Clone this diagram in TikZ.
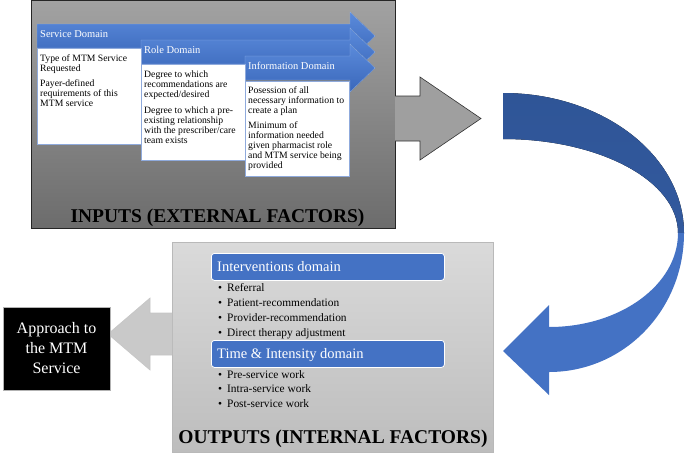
\documentclass[tikz,border=0pt]{standalone}
\usepackage{fontspec}
\setmainfont{Liberation Serif}
\usetikzlibrary{positioning}

\definecolor{mtmblue}{HTML}{4472C4}
\definecolor{mtmdark}{HTML}{2F5597}
\definecolor{bartop}{HTML}{5B8BDB}
\definecolor{barbot}{HTML}{3A67BA}
\definecolor{boxline}{HTML}{8FAADC}
\definecolor{ingreytop}{HTML}{A2A2A2}
\definecolor{ingreybot}{HTML}{6C6C6C}
\definecolor{outgreytop}{HTML}{DADADA}
\definecolor{outgreybot}{HTML}{BDBDBD}

\begin{document}
\begin{tikzpicture}[x=1pt,y=-1pt,inner sep=0pt,
		dombar/.style={draw=bartop!70!white,line width=0.4pt,top color=bartop,bottom color=barbot},
		txtbox/.style={draw=boxline,fill=white,line width=0.6pt,anchor=north west},
		txt/.style={anchor=north west,align=left,font={\fontsize{9.7}{10}\selectfont}},
		barlbl/.style={anchor=base west,text=white,font={\fontsize{10.5}{12}\selectfont}},
		outbar/.style={draw=white,line width=0.8pt,fill=mtmblue,rounded corners=3pt,anchor=north west,
			minimum width=233,minimum height=27},
		outlbl/.style={anchor=base west,text=white,font={\fontsize{14.5}{16}\selectfont}},
		bullets/.style={anchor=north west,align=left,font={\fontsize{11.4}{14.8}\selectfont}},
		title/.style={anchor=base,font={\bfseries\fontsize{19.5}{22}\selectfont}}]
	\useasboundingbox (0,0) rectangle (685,453);

	% inputs
	\node[draw=black!85,line width=0.8pt,top color=ingreytop,bottom color=ingreybot,anchor=north west,
		minimum width=364,minimum height=228] (inputs) at (31,0) {};
	\foreach \xs/\c/\nm/\lbl in {37/36/svc/Service Domain,141/52/role/Role Domain,245/68/info/Information Domain}{
		\filldraw[dombar] (\xs,\c-12) -- (350,\c-12) -- (350,\c-24) -- (375,\c) -- (350,\c+24)
			-- (350,\c+12) -- (\xs,\c+12) -- cycle;
		\node[barlbl] (\nm lbl) at (\xs+3,\c+1.5) {\lbl};
	}
	\node[txtbox,minimum width=104,minimum height=96] (svcbox) at (37,48) {};
	\node[txtbox,minimum width=104,minimum height=96] (rolebox) at (141,64) {};
	\node[txtbox,minimum width=104,minimum height=95] (infobox) at (245,81) {};
	\node[txt] (svctxt) at (40,54.5) {Type of MTM Service\\Requested\\[5pt]Payer-defined\\requirements of this\\MTM service};
	\node[txt] (roletxt) at (144,70.5) {Degree to which\\recommendations are\\expected/desired\\[6pt]Degree to which a pre-\\existing relationship\\with the prescriber/care\\team exists};
	\node[txt] (infotxt) at (248,86.5) {Posession of all\\necessary information to\\create a plan\\[5pt]Minimum of\\information needed\\given pharmacist role\\and MTM service being\\provided};
	\node[title] (intitle) at (217.5,222.5) {INPUTS (EXTERNAL FACTORS)};

	% grey arrow
	\filldraw[draw=black!80,fill=gray!75,line width=0.6pt] (395,96) -- (420,96) -- (420,77) -- (481,118.5)
		-- (420,160) -- (420,141) -- (395,141);

	% curved arrow
	\fill[top color=mtmdark,bottom color=mtmdark!85!mtmblue] (503,93) .. controls (603,93) and (684,156) .. (684,233)
		-- (678,233) .. controls (678,181) and (600,139) .. (503,139) -- cycle;
	\fill[mtmblue] (684,233) .. controls (684,310) and (624,372) .. (549,372) -- (549,395) -- (503,351)
		-- (549,305) -- (549,327) .. controls (620,327) and (678,285) .. (678,233) -- cycle;

	% outputs
	\node[draw=gray!55,line width=0.6pt,top color=outgreytop,bottom color=outgreybot,anchor=north west,
		minimum width=321,minimum height=210] (outputs) at (172,242) {};
	\filldraw[draw=gray!45,fill=gray!42,line width=0.6pt] (172,313) -- (150,313) -- (150,298) -- (108,334)
		-- (150,370) -- (150,355) -- (172,355);
	\node[outbar] (intvbar) at (211,253) {};
	\node[outlbl] (intvlbl) at (217,271.5) {Interventions domain};
	\node[bullets] (intvlist) at (218,283.7) {\makebox[9pt][l]{\textbullet}Referral\\
		\makebox[9pt][l]{\textbullet}Patient-recommendation\\
		\makebox[9pt][l]{\textbullet}Provider-recommendation\\
		\makebox[9pt][l]{\textbullet}Direct therapy adjustment};
	\node[outbar] (timebar) at (211,340) {};
	\node[outlbl] (timelbl) at (217,358) {Time \& Intensity domain};
	\node[bullets] (timelist) at (218,370) {\makebox[9pt][l]{\textbullet}Pre-service work\\
		\makebox[9pt][l]{\textbullet}Intra-service work\\
		\makebox[9pt][l]{\textbullet}Post-service work};
	\node[title] (outtitle) at (333,443) {OUTPUTS (INTERNAL FACTORS)};

	% approach
	\node[fill=black,draw=gray!60,line width=0.6pt,text=white,minimum width=107,minimum height=83,align=center,
		font={\fontsize{16}{20}\selectfont}] (approach) at (56.5,348.5) {Approach to\\the MTM\\Service};
\end{tikzpicture}
\end{document}
